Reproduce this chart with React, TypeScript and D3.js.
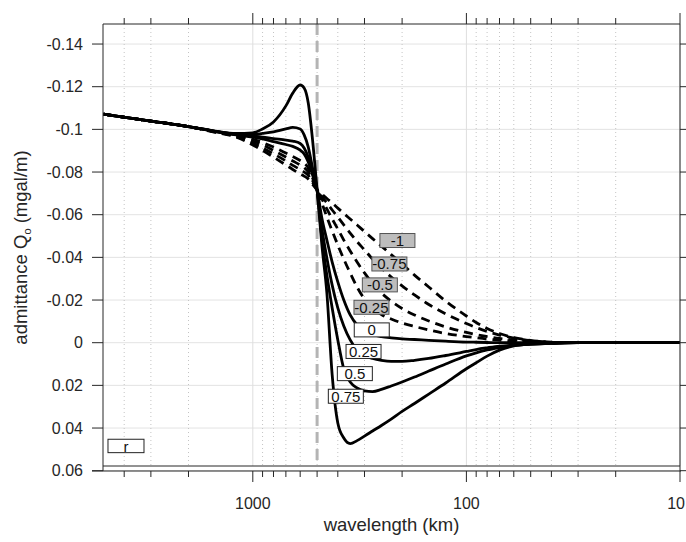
import React from 'react';
import * as d3 from 'd3';

// wavelength grid (km)
const lambdaKm = [5000, 3000, 2000, 1500, 1200, 1000, 900, 800, 700, 650, 600, 575, 550, 525, 500, 475, 450, 425, 400, 375, 350, 325, 300, 275, 250, 225, 200, 175, 150, 125, 100, 90, 80, 70, 60, 50, 40, 30, 20, 10];

// admittance (mgal/m) for each r
const qRm1 = [-0.1071, -0.1039, -0.1013, -0.0986, -0.0964, -0.0927, -0.0901, -0.0870, -0.0833, -0.0812, -0.0791, -0.0781, -0.0767, -0.0742, -0.0716, -0.0697, -0.0676, -0.0655, -0.0631, -0.0606, -0.0580, -0.0552, -0.0521, -0.0488, -0.0453, -0.0413, -0.0369, -0.0317, -0.0261, -0.0195, -0.0125, -0.0095, -0.0067, -0.0043, -0.0024, -0.0011, -0.0003, 0, 0, 0];
const qRm075 = [-0.1071, -0.1039, -0.1013, -0.0988, -0.0967, -0.0936, -0.0913, -0.0885, -0.0852, -0.0831, -0.0812, -0.0800, -0.0784, -0.0751, -0.0716, -0.0685, -0.0655, -0.0622, -0.0589, -0.0552, -0.0514, -0.0474, -0.0435, -0.0392, -0.0350, -0.0308, -0.0266, -0.0224, -0.0179, -0.0135, -0.0090, -0.0071, -0.0053, -0.0036, -0.0022, -0.0010, -0.0002, 0, 0, 0];
const qRm05 = [-0.1071, -0.1039, -0.1013, -0.0989, -0.0969, -0.0945, -0.0927, -0.0901, -0.0870, -0.0852, -0.0833, -0.0821, -0.0800, -0.0760, -0.0716, -0.0674, -0.0627, -0.0580, -0.0533, -0.0481, -0.0430, -0.0378, -0.0327, -0.0278, -0.0233, -0.0195, -0.0160, -0.0130, -0.0102, -0.0074, -0.0048, -0.0038, -0.0029, -0.0020, -0.0013, -0.0006, -0.0001, 0, 0, 0];
const qRm025 = [-0.1071, -0.1039, -0.1013, -0.0990, -0.0971, -0.0955, -0.0938, -0.0917, -0.0889, -0.0873, -0.0854, -0.0842, -0.0819, -0.0772, -0.0716, -0.0655, -0.0589, -0.0524, -0.0458, -0.0392, -0.0327, -0.0261, -0.0205, -0.0163, -0.0132, -0.0111, -0.0092, -0.0076, -0.0060, -0.0043, -0.0029, -0.0023, -0.0017, -0.0012, -0.0007, -0.0002, -0.0001, 0, 0, 0];
const qR0 = [-0.1071, -0.1039, -0.1013, -0.0990, -0.0974, -0.0964, -0.0955, -0.0943, -0.0929, -0.0920, -0.0903, -0.0885, -0.0847, -0.0786, -0.0716, -0.0585, -0.0481, -0.0378, -0.0285, -0.0200, -0.0130, -0.0083, -0.0055, -0.0038, -0.0029, -0.0023, -0.0018, -0.0015, -0.0011, -0.0007, -0.0003, -0.0002, -0.0001, 0, 0, 0, 0, 0, 0, 0];
const qR025 = [-0.1071, -0.1039, -0.1013, -0.0990, -0.0976, -0.0969, -0.0964, -0.0957, -0.0950, -0.0945, -0.0934, -0.0913, -0.0870, -0.0800, -0.0716, -0.0538, -0.0397, -0.0270, -0.0163, -0.0078, -0.0013, 0.0034, 0.0060, 0.0074, 0.0083, 0.0088, 0.0088, 0.0083, 0.0074, 0.0060, 0.0041, 0.0032, 0.0024, 0.0016, 0.0011, 0.0006, 0.0003, 0, 0, 0];
const qR05 = [-0.1071, -0.1039, -0.1013, -0.0991, -0.0978, -0.0976, -0.0981, -0.0988, -0.1002, -0.1009, -0.1002, -0.0974, -0.0917, -0.0819, -0.0716, -0.0491, -0.0317, -0.0163, -0.0013, 0.0123, 0.0184, 0.0212, 0.0226, 0.0229, 0.0219, 0.0203, 0.0184, 0.0161, 0.0133, 0.0100, 0.0062, 0.0048, 0.0034, 0.0023, 0.0013, 0.0007, 0.0003, 0, 0, 0];
const qR075 = [-0.1071, -0.1039, -0.1013, -0.0992, -0.0981, -0.0984, -0.1002, -0.1035, -0.1110, -0.1170, -0.1208, -0.1194, -0.1124, -0.0950, -0.0716, -0.0458, -0.0233, 0.0151, 0.0376, 0.0447, 0.0473, 0.0459, 0.0438, 0.0414, 0.0388, 0.0358, 0.0322, 0.0285, 0.0241, 0.0189, 0.0122, 0.0094, 0.0063, 0.0035, 0.0015, 0.0006, 0.0003, 0, 0, 0];

const rLabels = ['-1', '-0.75', '-0.5', '-0.25', '0', '0.25', '0.5', '0.75'];
const seriesQ = [qRm1, qRm075, qRm05, qRm025, qR0, qR025, qR05, qR075];
// label anchor (left-middle of the label box), in data units
const labelLambda = [254, 277, 307, 336, 335, 366, 402, 443];
const labelQ = [-0.0479, -0.0369, -0.0271, -0.0166, -0.0060, 0.0041, 0.0145, 0.0251];
const legendLambda = 4764;
const legendQ = 0.0484;
const cutoffLambda = 500;

const yTicks = [-0.14, -0.12, -0.1, -0.08, -0.06, -0.04, -0.02, 0, 0.02, 0.04, 0.06];
const yTickLabels = ['-0.14', '-0.12', '-0.1', '-0.08', '-0.06', '-0.04', '-0.02', '0', '0.02', '0.04', '0.06'];
const xMajor = [1000, 100, 10];
const xMajorLabels = ['1000', '100', '10'];
const xMinor = [4000, 3000, 2000, 900, 800, 700, 600, 500, 400, 300, 200, 90, 80, 70, 60, 50, 40, 30, 20];

const W = 686, H = 542;
const L = 103, R = 680, T = 24, BIN = 466, B = 471;
const FONT = "'Liberation Sans', Arial, Helvetica, sans-serif";
const AX = '#262626';

export default function App() {
  const x = d3.scaleLog().domain([5000, 10]).range([103.5, 680]);
  const y = d3.scaleLinear().domain([-0.15, 0.06]).range([22.7, 470.7]);
  const line = d3
    .line<number>()
    .x((_, i) => x(lambdaKm[i]))
    .y((d) => y(d))
    .curve(d3.curveMonotoneX);

  return (
    <svg width={W} height={H} style={{ position: 'absolute', left: 0, top: 0, background: '#fff' }} fontFamily={FONT}>
      <rect x={0} y={0} width={W} height={H} fill="#fff" />
      {/* horizontal grid */}
      {yTicks.map((t) => (
        <line key={'hg' + t} x1={L} x2={R} y1={y(t)} y2={y(t)} stroke="#e3e3e3" strokeWidth={1} />
      ))}
      {/* minor vertical grid */}
      {xMinor.map((t) => (
        <line key={'vm' + t} x1={x(t)} x2={x(t)} y1={T} y2={BIN} stroke="#c4c4c4" strokeWidth={1} strokeDasharray="1,3" />
      ))}
      {xMajor.map((t) => (
        <line key={'vM' + t} x1={x(t)} x2={x(t)} y1={T} y2={BIN} stroke="#dedede" strokeWidth={1} />
      ))}
      {/* cutoff wavelength */}
      <line x1={x(cutoffLambda)} x2={x(cutoffLambda)} y1={T} y2={BIN} stroke="#b4b4b4" strokeWidth={3} strokeDasharray="11,6" />
      {/* curves */}
      {seriesQ.map((q, i) => (
        <path
          key={'c' + i}
          d={line(q) || ''}
          fill="none"
          stroke="#000"
          strokeWidth={2.8}
          strokeDasharray={i < 4 ? '9,6' : undefined}
          strokeLinejoin="round"
        />
      ))}
      {/* curve labels */}
      {rLabels.map((lab, i) => {
        const lx = x(labelLambda[i]);
        const ly = y(labelQ[i]);
        const neg = i < 4;
        return (
          <g key={'lab' + i}>
            <rect x={lx} y={ly - 7} width={35} height={14} fill={neg ? '#bdbdbd' : '#fff'} stroke={neg ? '#555' : '#222'} strokeWidth={1} />
            <text x={lx + 17.5} y={ly + 5.5} textAnchor="middle" fontSize={15} fill="#111">
              {lab}
            </text>
          </g>
        );
      })}
      {/* legend r */}
      <g>
        <rect x={x(legendLambda)} y={y(legendQ) - 6.7} width={36} height={13.4} fill="#fff" stroke="#222" strokeWidth={1} />
        <text x={x(legendLambda) + 18} y={y(legendQ) + 6} textAnchor="middle" fontSize={15} fill="#111">
          r
        </text>
      </g>
      {/* frame */}
      <line x1={L} x2={R} y1={T} y2={T} stroke={AX} strokeWidth={1} />
      <line x1={L} x2={L} y1={T} y2={B} stroke={AX} strokeWidth={1} />
      <line x1={R} x2={R} y1={T} y2={B} stroke={AX} strokeWidth={1} />
      <line x1={L} x2={R} y1={BIN} y2={BIN} stroke={AX} strokeWidth={1} />
      <line x1={L - 11} x2={R + 1} y1={B} y2={B} stroke={AX} strokeWidth={1} />
      {/* y ticks */}
      {yTicks.map((t, i) => (
        <g key={'yt' + t}>
          <line x1={L - 11} x2={L} y1={y(t)} y2={y(t)} stroke={AX} strokeWidth={1} />
          <line x1={R} x2={R + 11} y1={y(t)} y2={y(t)} stroke={AX} strokeWidth={1} />
          <text x={83} y={y(t) + 5.5} textAnchor="end" fontSize={16} fill={AX}>
            {yTickLabels[i]}
          </text>
        </g>
      ))}
      {/* x ticks */}
      {xMinor.map((t) => (
        <g key={'xt' + t}>
          <line x1={x(t)} x2={x(t)} y1={B} y2={B + 6} stroke={AX} strokeWidth={1} />
          <line x1={x(t)} x2={x(t)} y1={T} y2={T - 6} stroke={AX} strokeWidth={1} />
        </g>
      ))}
      {xMajor.map((t, i) => {
        const last = i === xMajor.length - 1;
        return (
          <g key={'xT' + t}>
            <line x1={x(t)} x2={x(t)} y1={B} y2={B + 11} stroke={AX} strokeWidth={1} />
            <line x1={x(t)} x2={x(t)} y1={T} y2={T - 11} stroke={AX} strokeWidth={1} />
            <text x={last ? W - 1 : x(t)} y={509} textAnchor={last ? 'end' : 'middle'} fontSize={16} fill={AX}>
              {xMajorLabels[i]}
            </text>
          </g>
        );
      })}
      {/* axis labels */}
      <text x={(L + R) / 2} y={531} textAnchor="middle" fontSize={18.5} fill={AX}>
        wavelength (km)
      </text>
      <text transform={`translate(27,${(T + B) / 2}) rotate(-90)`} textAnchor="middle" fontSize={18.5} fill={AX}>
        admittance Q<tspan fontSize={11} dy={4}>o</tspan>
        <tspan dy={-4}> (mgal/m)</tspan>
      </text>
    </svg>
  );
}
